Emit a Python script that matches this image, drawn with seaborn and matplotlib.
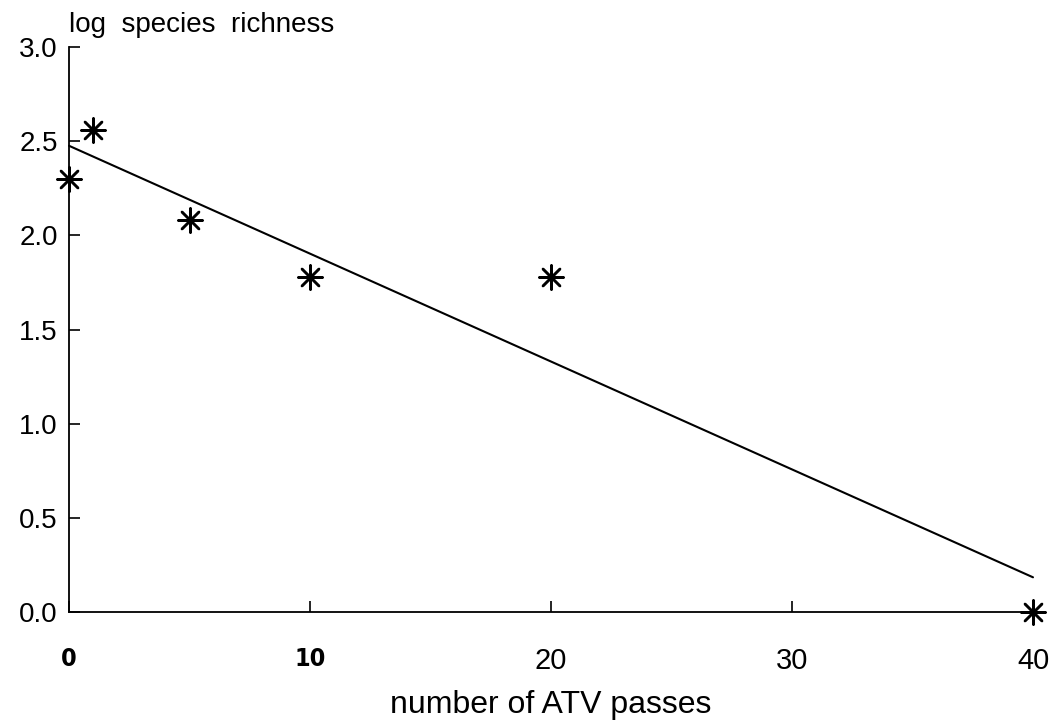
import matplotlib
matplotlib.use('Agg')
import matplotlib.pyplot as plt
import seaborn as sns
import pandas as pd

passes = [0, 1, 5, 10, 20, 40]
log_richness = [2.30, 2.56, 2.08, 1.78, 1.78, 0.0]
x_ticks = [0, 10, 20, 30, 40]
x_tick_labels = ['0', '10', '20', '30', '40']
y_ticks = [0.0, 0.5, 1.0, 1.5, 2.0, 2.5, 3.0]
y_tick_labels = ['0.0', '0.5', '1.0', '1.5', '2.0', '2.5', '3.0']

sns.set_theme(style='ticks')
plt.rcParams['font.family'] = ['Liberation Sans', 'DejaVu Sans']

fig = plt.figure(figsize=(10.52, 7.27), dpi=100)
ax = fig.add_axes([69 / 1052, 1 - 612 / 727, (1033 - 69) / 1052, (612 - 47) / 727])

df = pd.DataFrame({'passes': passes, 'rich': log_richness})
sns.regplot(data=df, x='passes', y='rich', ci=None, ax=ax, marker=(8, 2, 0),
            color='black',
            scatter_kws=dict(s=300, linewidths=1.8, alpha=1, clip_on=False, zorder=5),
            line_kws=dict(lw=1.5, clip_on=False))

ax.set_xlim(0, 40)
ax.set_ylim(0, 3)
ax.set_xticks(x_ticks)
ax.set_xticklabels(x_tick_labels)
ax.set_yticks(y_ticks)
ax.set_yticklabels(y_tick_labels)
ax.set_xlabel('')
ax.set_ylabel('')
sns.despine(ax=ax)
for s in ['left', 'bottom']:
    ax.spines[s].set_linewidth(1.3)
    ax.spines[s].set_color('black')
ax.tick_params(axis='both', direction='in', length=8, width=1.2, color='black',
               labelcolor='black')
ax.tick_params(axis='y', labelsize=20, pad=8)
ax.tick_params(axis='x', labelsize=21, pad=25)
for i, lab in enumerate(ax.get_xticklabels()):
    if i < 2:
        lab.set_fontweight('bold')
        lab.set_family(['DejaVu Sans'])
        lab.set_fontstretch('condensed')
        lab.set_fontsize(18)

fig.text(69 / 1052, 1 - 25 / 727, 'log  species  richness', ha='left', va='center',
         fontsize=20, color='black')
fig.text(551 / 1052, 1 - 705 / 727, 'number of ATV passes', ha='center', va='center',
         fontsize=23, color='black')

fig.savefig('out.png', dpi=100)
